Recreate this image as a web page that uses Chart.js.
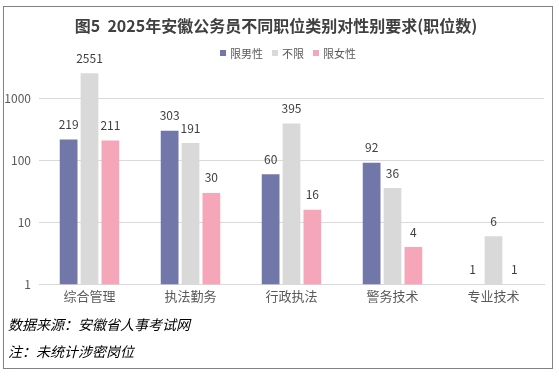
<!DOCTYPE html>
<html>
<head>
<meta charset="utf-8">
<script src="https://cdn.jsdelivr.net/npm/chart.js@4/dist/chart.umd.min.js"></script>
<style>
  html, body { margin: 0; padding: 0; background: #fff; }
  #wrap { position: relative; width: 559px; height: 377px; overflow: hidden; font-family: "Noto Sans CJK SC", sans-serif; }
  #frame { position: absolute; left: 3px; top: 6px; width: 550px; height: 363px; border: 1.5px solid #80808e; box-sizing: border-box; }
  canvas { position: absolute; left: 0; top: 0; }
  #titulo { position: absolute; left: 0; width: 552px; top: 16px; text-align: center; font-size: 16px; font-weight: bold; color: #404040; line-height: 18px; white-space: nowrap; }
  #legenda { position: absolute; left: 220px; top: 46px; display: flex; align-items: center; font-size: 11px; color: #595959; line-height: 14px; }
  #legenda span.q { display: inline-block; width: 6px; height: 6px; margin-right: 4px; }
  #legenda span.t { margin-right: 9px; }
  .note { position: absolute; left: 8px; font-style: italic; font-size: 14px; color: #000; line-height: 1; }
</style>
</head>
<body>
<div id="wrap">
  <div id="frame"></div>
  <canvas id="barChart" width="559" height="377"></canvas>
  <div id="titulo">图5&nbsp;&nbsp;2025年安徽公务员不同职位类别对性别要求(职位数)</div>
  <div id="legenda"></div>
  <div class="note" style="top:317px;">数据来源：安徽省人事考试网</div>
  <div class="note" style="top:344px;">注：未统计涉密岗位</div>
</div>
<script>
var categorias = ["综合管理", "执法勤务", "行政执法", "警务技术", "专业技术"];
var series = ["限男性", "不限", "限女性"];
var limiteMasculino = [219, 303, 60, 92, 1];
var semLimite = [2551, 191, 395, 36, 6];
var limiteFeminino = [211, 30, 16, 4, 1];
var ticksY = [1, 10, 100, 1000];
var cores = ["#7277aa", "#d9d9d9", "#f5a7b9"];

var fonte = '"Noto Sans CJK SC", "Noto Sans", sans-serif';

// legenda em HTML
var legenda = document.getElementById("legenda");
for (var i = 0; i < series.length; i++) {
  legenda.innerHTML +=
    '<span class="q" style="background:' + cores[i] + '"></span><span class="t">' + series[i] + "</span>";
}

// rótulos de valor acima das barras
var rotulos = {
  id: "rotulos",
  afterDatasetsDraw: function (chart) {
    var ctx = chart.ctx;
    ctx.save();
    ctx.font = "12px " + fonte;
    ctx.fillStyle = "#404040";
    ctx.textAlign = "center";
    ctx.textBaseline = "middle";
    chart.data.datasets.forEach(function (ds, i) {
      var meta = chart.getDatasetMeta(i);
      meta.data.forEach(function (bar, j) {
        ctx.fillText(String(ds.data[j]), bar.x, bar.y - 15);
      });
    });
    ctx.restore();
  },
};

new Chart(document.getElementById("barChart"), {
  type: "bar",
  data: {
    labels: categorias,
    datasets: [
      { label: series[0], data: limiteMasculino, backgroundColor: cores[0] },
      { label: series[1], data: semLimite, backgroundColor: cores[1] },
      { label: series[2], data: limiteFeminino, backgroundColor: cores[2] },
    ],
  },
  options: {
    responsive: false,
    animation: false,
    devicePixelRatio: 1,
    categoryPercentage: 0.62,
    barPercentage: 0.85,
    layout: {
      padding: { left: 0, right: 15, top: 69, bottom: 69 },
    },
    plugins: {
      legend: { display: false },
      tooltip: { enabled: false },
    },
    scales: {
      x: {
        grid: { display: false, drawTicks: false },
        border: { color: "#d9d9d9" },
        ticks: {
          color: "#595959",
          font: { family: fonte, size: 13 },
          padding: 4,
        },
      },
      y: {
        type: "logarithmic",
        min: 1,
        max: 3000,
        afterBuildTicks: function (scale) {
          scale.ticks = ticksY.map(function (v) {
            return { value: v };
          });
        },
        afterFit: function (scale) {
          scale.width = 39;
        },
        grid: { color: "#d9d9d9", drawTicks: false },
        border: { display: false },
        ticks: {
          color: "#595959",
          font: { family: fonte, size: 12 },
          padding: 8,
          callback: function (value) {
            return String(value);
          },
        },
      },
    },
  },
  plugins: [rotulos],
});
</script>
</body>
</html>
